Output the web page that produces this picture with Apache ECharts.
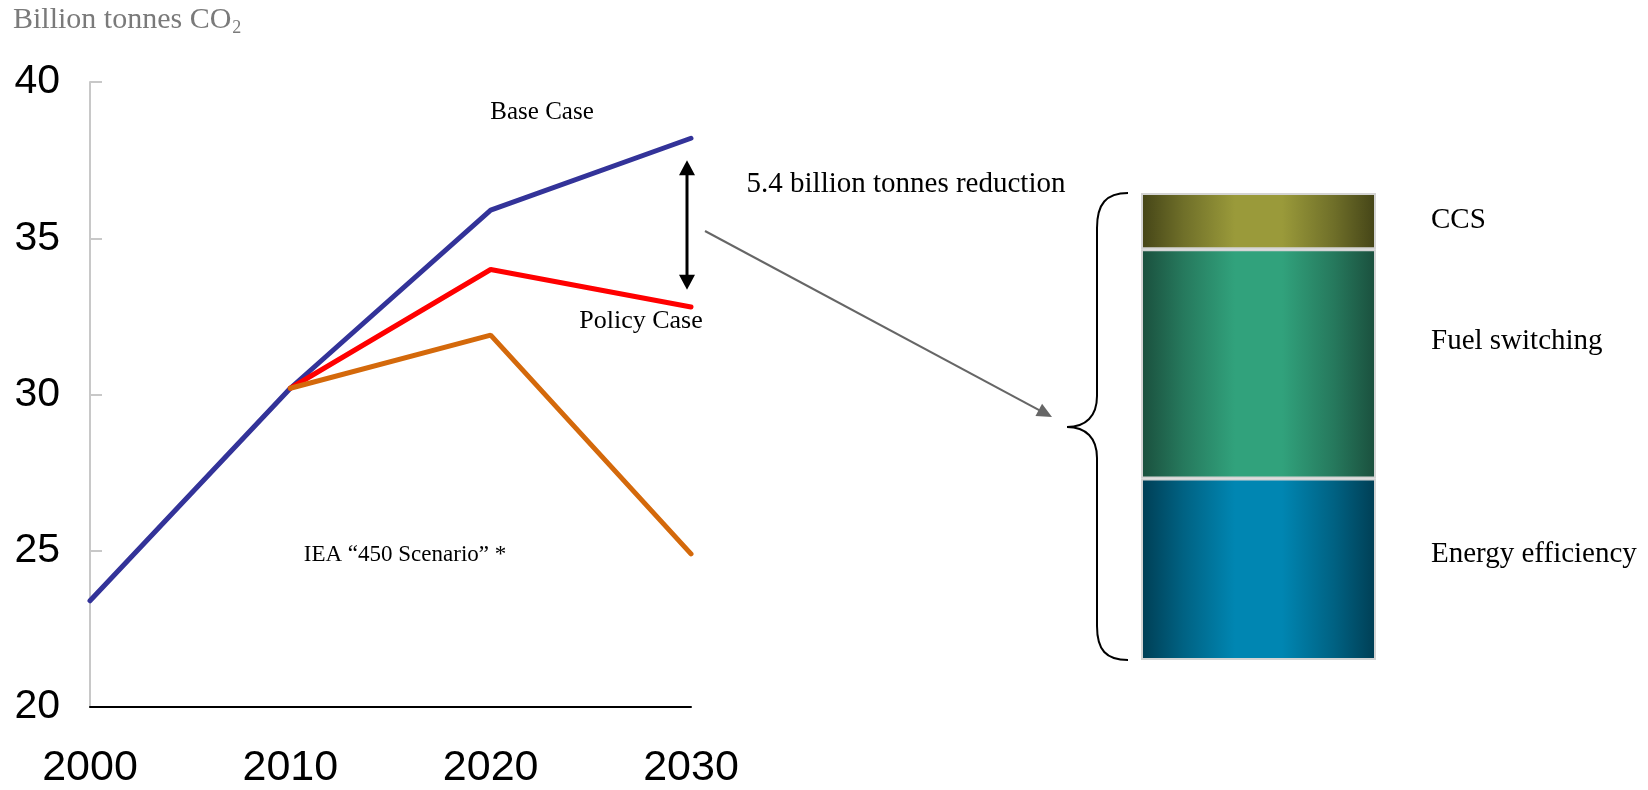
<!DOCTYPE html>
<html>
<head>
<meta charset="utf-8">
<script src="https://cdn.jsdelivr.net/npm/echarts@6/dist/echarts.min.js"></script>
<style>
html,body{margin:0;padding:0;background:#fff;}
#chart{width:1648px;height:790px;}
</style>
</head>
<body>
<div id="chart"></div>
<script>
// ---- data ----
const years = ['2000', '2010', '2020', '2030'];
const baseCase = [23.4, 30.2, 35.9, 38.2];
const policyCase = [null, 30.2, 34.0, 32.8];
const scenario450 = [null, 30.2, 31.9, 24.9];
const yMin = 20, yMax = 40, yStep = 5;

const reductionCategory = ['2030 reduction'];
const energyEfficiency = [2.1];
const fuelSwitching = [2.65];
const ccs = [0.65];
const reductionTotal = 5.4;

const serif = '"Liberation Serif", "DejaVu Serif", serif';
const sans = '"Liberation Sans", Arial, sans-serif';

function hGrad(edge, mid) {
  return new echarts.graphic.LinearGradient(0, 0, 1, 0, [
    {offset: 0, color: edge},
    {offset: 0.18, color: echarts.color.lerp(0.5, [edge, mid])},
    {offset: 0.4, color: mid},
    {offset: 0.6, color: mid},
    {offset: 0.82, color: echarts.color.lerp(0.5, [edge, mid])},
    {offset: 1, color: edge}
  ]);
}

const chart = echarts.init(document.getElementById('chart'), null, {renderer: 'canvas'});

const option = {
  animation: false,
  backgroundColor: '#ffffff',
  grid: [
    {left: 90, top: 82, width: 601, height: 626, containLabel: false},
    {left: 1141, top: 193, width: 235, height: 467, containLabel: false}
  ],
  xAxis: [
    {
      gridIndex: 0, type: 'category', data: years, boundaryGap: false, z: 5,
      axisLine: {show: true, lineStyle: {color: '#000', width: 2}},
      axisTick: {show: false},
      axisLabel: {color: '#000', fontFamily: sans, fontSize: 43, margin: 40},
      splitLine: {show: false}
    },
    {
      gridIndex: 1, type: 'category', data: reductionCategory, show: false
    }
  ],
  yAxis: [
    {
      gridIndex: 0, type: 'value', min: yMin, max: yMax, interval: yStep, z: 1,
      axisLine: {show: true, lineStyle: {color: '#c8c8c8', width: 2}},
      axisTick: {show: true, inside: true, length: 12, lineStyle: {color: '#c8c8c8', width: 2}},
      axisLabel: {color: '#000', fontFamily: sans, fontSize: 41, margin: 30},
      splitLine: {show: false}
    },
    {
      gridIndex: 1, type: 'value', min: 0, max: reductionTotal, show: false
    }
  ],
  series: [
    {
      name: 'Base Case', type: 'line', data: baseCase, xAxisIndex: 0, yAxisIndex: 0,
      symbol: 'none', lineStyle: {color: '#333399', width: 5, cap: 'round'}, z: 3
    },
    {
      name: 'Policy Case', type: 'line', data: policyCase, xAxisIndex: 0, yAxisIndex: 0,
      symbol: 'none', lineStyle: {color: '#ff0000', width: 5, cap: 'round'}, z: 4
    },
    {
      name: 'IEA 450 Scenario', type: 'line', data: scenario450, xAxisIndex: 0, yAxisIndex: 0,
      symbol: 'none', lineStyle: {color: '#d4690b', width: 5, cap: 'round'}, z: 5
    },
    {
      name: 'Energy efficiency', type: 'bar', stack: 'red', data: energyEfficiency,
      xAxisIndex: 1, yAxisIndex: 1, barWidth: '100%',
      itemStyle: {color: hGrad('#003e54', '#0086b2'), borderColor: '#d4d4d4', borderWidth: 2}
    },
    {
      name: 'Fuel switching', type: 'bar', stack: 'red', data: fuelSwitching,
      xAxisIndex: 1, yAxisIndex: 1, barWidth: '100%',
      itemStyle: {color: hGrad('#1a4f3d', '#31a27c'), borderColor: '#d4d4d4', borderWidth: 2}
    },
    {
      name: 'CCS', type: 'bar', stack: 'red', data: ccs,
      xAxisIndex: 1, yAxisIndex: 1, barWidth: '100%',
      itemStyle: {color: hGrad('#444417', '#9a9a3a'), borderColor: '#d4d4d4', borderWidth: 2}
    }
  ]
};
chart.setOption(option);

// ---- annotations ----
const ax = chart.convertToPixel({gridIndex: 0}, ['2030', 37.5]);
const bx = chart.convertToPixel({gridIndex: 0}, ['2030', 33.35]);
const arrX = ax[0] - 4;
const topY = ax[1], botY = bx[1];
const ah = 15, aw = 8;

// gray arrow
const g0 = [705, 231], g1 = [1052, 417];
const dx = g1[0] - g0[0], dy = g1[1] - g0[1];
const len = Math.sqrt(dx * dx + dy * dy);
const ux = dx / len, uy = dy / len;
const bcx = g1[0] - 15 * ux, bcy = g1[1] - 15 * uy;
const px = -uy * 7, py = ux * 7;

function txt(text, x, y, size, align, color) {
  return {
    type: 'text', x: x, y: y, z: 10,
    style: {text: text, fill: color || '#000', font: size + 'px ' + serif,
            align: align || 'center', verticalAlign: 'middle'}
  };
}
function bez(a, c1, c2, b) {
  return {type: 'bezierCurve', z: 10,
    shape: {x1: a[0], y1: a[1], cpx1: c1[0], cpy1: c1[1], cpx2: c2[0], cpy2: c2[1], x2: b[0], y2: b[1]},
    style: {stroke: '#000', lineWidth: 2, fill: null}};
}
function seg(a, b, color, w) {
  return {type: 'line', z: 10, shape: {x1: a[0], y1: a[1], x2: b[0], y2: b[1]},
    style: {stroke: color || '#000', lineWidth: w || 2}};
}

chart.setOption({
  graphic: [
    {
      type: 'text', x: 13, y: 3, z: 10,
      style: {
        text: '{a|Billion tonnes CO}{b|2}',
        rich: {
          a: {fontFamily: serif, fontSize: 30, fill: '#7a7a7a', color: '#7a7a7a'},
          b: {fontFamily: serif, fontSize: 18, fill: '#7a7a7a', color: '#7a7a7a', verticalAlign: 'bottom', padding: [16, 0, 0, 1]}
        }
      }
    },
    txt('Base Case', 542, 112, 25),
    txt('Policy Case', 641, 321, 26),
    txt('IEA \u201C450 Scenario\u201D *', 405, 555, 23),
    txt('5.4 billion tonnes reduction', 906, 184, 29),
    txt('CCS', 1431, 220, 29, 'left'),
    txt('Fuel switching', 1431, 341, 29, 'left'),
    txt('Energy efficiency', 1431, 554, 29, 'left'),
    // double arrow
    seg([arrX, topY + ah - 2], [arrX, botY - ah + 2], '#000', 3),
    {type: 'polygon', z: 10, shape: {points: [[arrX, topY], [arrX - aw, topY + ah], [arrX + aw, topY + ah]]},
     style: {fill: '#000'}},
    {type: 'polygon', z: 10, shape: {points: [[arrX, botY], [arrX - aw, botY - ah], [arrX + aw, botY - ah]]},
     style: {fill: '#000'}},
    // gray arrow
    seg(g0, [bcx + 2 * ux, bcy + 2 * uy], '#666', 2),
    {type: 'polygon', z: 10, shape: {points: [[g1[0], g1[1]], [bcx + px, bcy + py], [bcx - px, bcy - py]]},
     style: {fill: '#666'}},
    // brace
    bez([1128, 193], [1106, 193], [1097, 204], [1097, 228]),
    seg([1097, 228], [1097, 396]),
    bez([1097, 396], [1097, 416], [1086, 427], [1067, 427]),
    bez([1067, 427], [1086, 427], [1097, 438], [1097, 458]),
    seg([1097, 458], [1097, 626]),
    bez([1097, 626], [1097, 650], [1106, 660], [1128, 660])
  ]
});
</script>
</body>
</html>
